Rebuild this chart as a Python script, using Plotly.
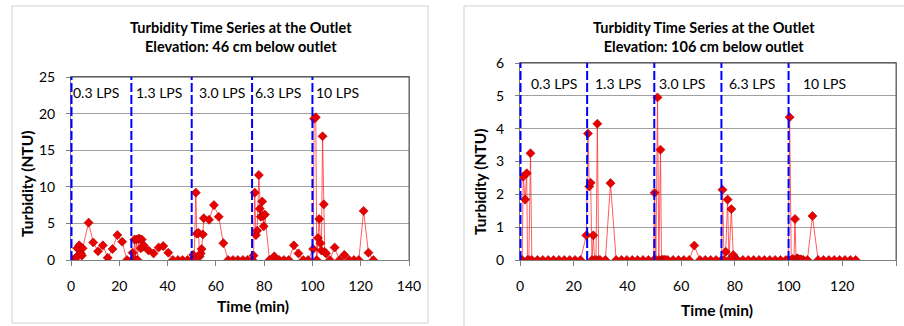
import plotly.graph_objects as go

# ---------------- data ----------------
# Left panel: elevation 46 cm below outlet
time_46 = [0, 0.5, 1, 1.5, 2.0, 2.6, 3.0, 3.4, 3.8, 4.1, 4.5, 4.8, 7.3, 9.2, 11.2, 13.2, 15.2, 17.2, 19.2, 21.2, 23.2,
           25.2, 25.5, 25.9, 26.3, 26.7, 27.1, 27.6, 28.0, 28.4, 28.9, 29.3, 29.7, 30.1, 32.1, 34.2, 36.3, 38.2, 40.3, 42.2, 44.3, 46.2, 48.3, 50.2,
           50.6, 51.0, 51.7, 52.1, 52.8, 53.3, 53.7, 54.1, 54.6, 55.0, 57.2, 59.2, 61.2, 63.1, 65.1, 67.1, 69.1, 71.2, 73.1, 75.2,
           75.6, 76.1, 76.6, 77.1, 77.8, 78.2, 78.6, 79.2, 79.5, 79.8, 80.3, 82.2, 84.2, 86.2, 88.2, 90.2, 92.3, 94.2, 96.2, 98.2, 100.3,
           100.7, 101.4, 101.8, 102.3, 102.8, 103.3, 103.7, 104.2, 104.7, 105.1, 105.6, 107.2, 109.2, 111.2, 113.2, 115.2, 117.2, 119.2, 121.2, 123.2, 125.2]
turb_46 = [0, 0, 0, 0, 0.3, 1.6, 0.6, 2.0, 1.4, 0.9, 0.6, 1.6, 5.1, 2.4, 1.2, 2.0, 0.3, 1.5, 3.4, 2.5, 0,
           0, 1.0, 0, 2.8, 0, 2.8, 0, 2.9, 2.9, 1.6, 2.8, 1.8, 2.0, 1.3, 0.9, 1.7, 1.9, 1.0, 0, 0, 0, 0, 0,
           0.7, 0, 9.2, 3.6, 3.7, 0.5, 0.9, 1.5, 3.5, 5.7, 5.5, 7.5, 5.9, 2.3, 0, 0, 0, 0, 0, 0,
           0.6, 9.2, 3.4, 4.0, 11.6, 7.0, 5.9, 8.0, 6.0, 4.6, 6.2, 0, 0.5, 0, 0, 0, 2.0, 0.9, 0, 0, 1.5,
           19.3, 19.5, 0, 3.0, 5.6, 2.3, 1.3, 16.9, 7.6, 1.1, 0.9, 0, 1.7, 0, 0.7, 0, 0, 0, 6.7, 1.0, 0]

# Right panel: elevation 106 cm below outlet
time_106 = [0, 0.4, 0.8, 1.2, 1.9, 2.5, 2.8, 3.3, 3.9, 4.4, 6.5, 8.5, 10.5, 12.5, 14.5, 16.5, 18.5, 20.5, 22.5,
            24.7, 25.3, 25.8, 26.3, 26.8, 27.3, 27.8, 28.3, 28.8, 29.3, 29.8, 31.8, 33.7, 35.8, 37.8, 39.8, 41.8, 43.8, 45.8, 47.8,
            49.8, 50.1, 50.6, 51.2, 51.7, 52.3, 52.7, 53.1, 53.5, 53.9, 54.3, 55.0, 57.0, 59.0, 61.0, 63.0, 64.9, 67.0, 69.0, 71.0, 73.0,
            75.0, 75.4, 76.0, 76.6, 77.3, 77.8, 78.7, 79.4, 80.0, 81.0, 83.0, 85.0, 87.0, 89.0, 91.0, 93.0, 95.0, 97.0, 99.0,
            99.9, 100.4, 101.0, 101.5, 102.0, 102.4, 102.8, 103.2, 103.6, 104.0, 104.5, 105.0, 105.5, 107.0, 108.9, 111.0,
            113.0, 115.0, 117.0, 119.0, 121.0, 123.0, 125.0]
turb_106 = [0, 0, 0, 2.54, 1.84, 2.64, 0, 0, 3.25, 0, 0, 0, 0, 0, 0, 0, 0, 0, 0,
            0.75, 3.85, 2.24, 2.35, 0, 0.75, 0, 0, 4.15, 0, 0, 0, 2.34, 0, 0, 0, 0, 0, 0, 0,
            0, 2.05, 0, 4.95, 0, 3.36, 0, 0, 0, 0, 0, 0, 0, 0, 0, 0, 0.44, 0, 0, 0, 0,
            0, 2.14, 0, 0.25, 1.84, 0, 1.55, 0.15, 0, 0, 0, 0, 0, 0, 0, 0, 0, 0, 0,
            0, 4.35, 0, 0.03, 0, 1.25, 0.02, 0.05, 0.03, 0, 0.02, 0, 0, 0, 1.34, 0,
            0, 0, 0, 0, 0, 0, 0]

flow_changes = [0, 25, 50, 75, 100]
flow_labels = ["0.3 LPS", "1.3 LPS", "3.0 LPS", "6.3 LPS", "10 LPS"]
label_x_46 = [10.4, 36.4, 62.7, 85.9, 110.5]
label_x_106 = [12.8, 36.4, 60.2, 86.5, 113.5]
titles = ["Turbidity Time Series at the Outlet<br>Elevation: 46 cm below outlet",
          "Turbidity Time Series at the Outlet<br>Elevation: 106 cm below outlet"]
x_ticks = [0, 20, 40, 60, 80, 100, 120, 140]

# ---------------- figure ----------------
W, H = 904, 326
FONT = "Lato"

def px_x(p):
    return p / W

def px_y(p):
    return 1 - p / H

fig = go.Figure()

marker = dict(symbol="diamond", size=7, color="#e80000", line=dict(color="#b00000", width=0.6))
line = dict(color="rgba(255,40,40,0.75)", width=1)

fig.add_trace(go.Scatter(x=time_46, y=turb_46, mode="lines+markers", marker=marker, line=line,
                         xaxis="x", yaxis="y", showlegend=False))
fig.add_trace(go.Scatter(x=time_106, y=turb_106, mode="lines+markers", marker=marker, line=line,
                         xaxis="x2", yaxis="y2", showlegend=False))

common_x = dict(range=[0, 140], tickvals=x_ticks, showgrid=False, zeroline=False, automargin=False,
                showline=True, linecolor="#808080", linewidth=1, mirror=True,
                ticks="outside", ticklen=5, tickcolor="#808080",
                tickfont=dict(family=FONT, size=14, color="#000"), ticklabelstandoff=8)
common_y = dict(showgrid=True, gridcolor="#a0a0a0", gridwidth=1, zeroline=False, automargin=False,
                showline=True, linecolor="#808080", linewidth=1, mirror=True,
                ticks="outside", ticklen=4, tickcolor="#808080",
                tickfont=dict(family=FONT, size=14, color="#000"), ticklabelstandoff=8)

LEFT_DOM = (71, 409, 77, 260)    # x0, x1, ytop, ybottom in px
RIGHT_DOM = (520, 896, 63, 260)

fig.update_layout(
    width=W, height=H, autosize=False,
    margin=dict(l=0, r=0, t=0, b=0, pad=0),
    paper_bgcolor="white", plot_bgcolor="white",
    xaxis=dict(domain=[px_x(LEFT_DOM[0]), px_x(LEFT_DOM[1])], anchor="y", **common_x),
    yaxis=dict(domain=[px_y(LEFT_DOM[3]), px_y(LEFT_DOM[2])], anchor="x", range=[0, 25], dtick=5, **common_y),
    xaxis2=dict(domain=[px_x(RIGHT_DOM[0]), px_x(RIGHT_DOM[1])], anchor="y2", **common_x),
    yaxis2=dict(domain=[px_y(RIGHT_DOM[3]), px_y(RIGHT_DOM[2])], anchor="x2", range=[0, 6], dtick=1, **common_y),
)

shapes = []
# chart frames
shapes.append(dict(type="rect", xref="paper", yref="paper", x0=px_x(12), x1=px_x(428), y0=px_y(323), y1=px_y(6),
                   line=dict(color="#d0d0d0", width=1), layer="below"))
shapes.append(dict(type="rect", xref="paper", yref="paper", x0=px_x(464), x1=px_x(920), y0=px_y(340), y1=px_y(6),
                   line=dict(color="#d0d0d0", width=1), layer="below"))
# darker top/right plot-area borders
for xd, yd in (("x domain", "y domain"), ("x2 domain", "y2 domain")):
    shapes.append(dict(type="line", xref=xd, yref=yd, x0=0, x1=1, y0=1, y1=1,
                       line=dict(color="#404040", width=1)))
    shapes.append(dict(type="line", xref=xd, yref=yd, x0=1, x1=1, y0=0, y1=1,
                       line=dict(color="#606060", width=1)))
# flow-change lines
for xa, ya, dom in (("x", "y domain", LEFT_DOM), ("x2", "y2 domain", RIGHT_DOM)):
    for fc in flow_changes:
        if fc == 0:
            # the line sitting on the y axis: place it in paper space so it is not clipped
            shapes.append(dict(type="line", xref="paper", yref="paper",
                               x0=px_x(dom[0] + 0.5), x1=px_x(dom[0] + 0.5),
                               y0=px_y(dom[3]), y1=px_y(dom[2]),
                               line=dict(color="#0000ff", width=2, dash="9px,3px")))
        else:
            shapes.append(dict(type="line", xref=xa, yref=ya, x0=fc, x1=fc, y0=0, y1=1,
                               line=dict(color="#0000ff", width=2, dash="9px,3px")))
fig.update_layout(shapes=shapes)

ann = []
for lab, lx in zip(flow_labels, label_x_46):
    ann.append(dict(x=lx, y=22.9, xref="x", yref="y", text=lab, showarrow=False,
                    font=dict(family=FONT, size=14, color="#000")))
for lab, lx in zip(flow_labels, label_x_106):
    ann.append(dict(x=lx, y=5.38, xref="x2", yref="y2", text=lab, showarrow=False,
                    font=dict(family=FONT, size=14, color="#000")))

# titles
for cx, t in ((241, titles[0]), (704, titles[1])):
    ann.append(dict(x=px_x(cx), y=px_y(37), xref="paper", yref="paper", text="<b>" + t.replace("<br>", "</b><br><b>") + "</b>",
                    showarrow=False, xanchor="center", yanchor="middle",
                    font=dict(family=FONT, size=14.5, color="#000")))
# axis titles
for cx, cy in ((253, 306), (717, 310)):
    ann.append(dict(x=px_x(cx), y=px_y(cy), xref="paper", yref="paper", text="<b>Time (min)</b>",
                    showarrow=False, xanchor="center", yanchor="middle",
                    font=dict(family=FONT, size=15.5, color="#000")))
for cx, cy in ((27, 184), (480, 182)):
    ann.append(dict(x=px_x(cx), y=px_y(cy), xref="paper", yref="paper", text="<b>Turbidity (NTU)</b>",
                    showarrow=False, xanchor="center", yanchor="middle", textangle=-90,
                    font=dict(family=FONT, size=15.5, color="#000")))
fig.update_layout(annotations=ann)

fig.write_html("out.html")
